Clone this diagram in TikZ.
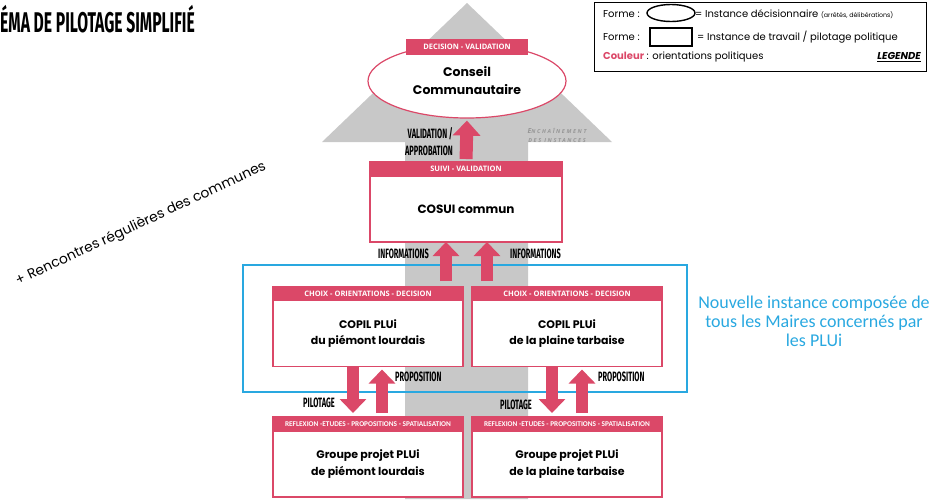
\documentclass[tikz,border=0pt]{standalone}
\usepackage{fontspec}
\setmainfont{Poppins}
\newfontfamily\narrowfont[FakeStretch=0.55]{Fira Sans}
\newfontfamily\hdrfont{Open Sans}
\newfontfamily\calfont{Carlito}
\usetikzlibrary{positioning,shapes.geometric,arrows.meta}
\definecolor{pilred}{RGB}{219,72,104}
\definecolor{pilgray}{RGB}{200,200,200}
\definecolor{pilblue}{RGB}{41,168,224}
\definecolor{txtgray}{RGB}{150,150,150}

\begin{document}
\begin{tikzpicture}[x=1pt,y=-1pt,
  body/.style={draw=pilred,line width=1.2pt,fill=white,minimum width=190pt,minimum height=66pt,
    inner sep=0pt,outer sep=0pt,align=center,font=\bfseries\fontsize{11}{16.5}\selectfont},
  hdr/.style={draw=pilred,fill=pilred,line width=1.2pt,text=white,minimum width=190pt,minimum height=14pt,
    inner sep=0pt,outer sep=0pt,font=\hdrfont\bfseries\fontsize{7.5}{8}\selectfont},
  fat/.style={draw=pilred,line width=12pt,-{Triangle[width=26pt,length=14pt]}},
  lbl/.style={inner sep=0pt,font=\narrowfont\bfseries\fontsize{13.5}{17}\selectfont},
  legtxt/.style={inner sep=0pt,anchor=west,font=\fontsize{10}{12}\selectfont}]
\useasboundingbox (0,0) rectangle (937,499);
% title
\node[anchor=west,inner sep=0pt,font=\narrowfont\bfseries\fontsize{28.5}{30}\selectfont] (title) at (0,19) {ÉMA DE PILOTAGE SIMPLIFIÉ};
% grey arrow behind
\fill[pilgray] (405,499) -- (405,142) -- (322,142) -- (467,3) -- (612,142) -- (528,142) -- (528,499) -- cycle;
\node[align=center,inner sep=0pt,text=txtgray,font=\hdrfont\itshape\bfseries\addfontfeature{LetterSpace=30}\fontsize{5.5}{9}\selectfont] (enchain) at (557,135.5)
  {{\fontsize{7}{9}\selectfont E}NCHAÎNEMENT\\DES INSTANCES};
% blue frame
\draw[pilblue,line width=1.5pt] (243,265) rectangle (687,392);
\node[align=center,inner sep=0pt,text=pilblue,font=\calfont\fontsize{18}{19}\selectfont] (nouvelle) at (814,321)
  {Nouvelle instance composée de\\tous les Maires concernés par\\les PLUi};
\node[rotate=25,inner sep=0pt,font=\fontsize{13.8}{15}\selectfont] (rencontres) at (141,224) {+ Rencontres régulières des communes};

% conseil
\node[ellipse,draw=pilred,line width=1.2pt,fill=white,minimum width=198pt,minimum height=74pt,inner sep=0pt,
  align=center,font=\bfseries\fontsize{12.5}{18}\selectfont] (conseil) at (467,81) {Conseil\\Communautaire};
\node[hdr,minimum width=120pt,minimum height=15pt,anchor=north] (conseilH) at ([yshift=4pt]conseil.north) {DECISION - VALIDATION};
% cosui
\node[body,minimum width=192pt,font=\bfseries\fontsize{12}{16}\selectfont] (cosui) at (466,209) {COSUI commun};
\node[hdr,minimum width=192pt,above=0pt of cosui] (cosuiH) {SUIVI - VALIDATION};
% copil
\node[body] (copilL) at (368,333.5) {COPIL PLUi\\du piémont lourdais};
\node[hdr,above=0pt of copilL] (copilLH) {CHOIX - ORIENTATIONS - DECISION};
\node[body] (copilR) at (567,333.5) {COPIL PLUi\\de la plaine tarbaise};
\node[hdr,above=0pt of copilR] (copilRH) {CHOIX - ORIENTATIONS - DECISION};
% groupes projet
\node[body] (groupeL) at (368,464) {Groupe projet PLUi\\de piémont lourdais};
\node[hdr,above=0pt of groupeL,font=\calfont\bfseries\fontsize{7.3}{8}\selectfont] (groupeLH) {REFLEXION -ETUDES - PROPOSITIONS - SPATIALISATION};
\node[body] (groupeR) at (567,464) {Groupe projet PLUi\\de la plaine tarbaise};
\node[hdr,above=0pt of groupeR,font=\calfont\bfseries\fontsize{7.3}{8}\selectfont] (groupeRH) {REFLEXION -ETUDES - PROPOSITIONS - SPATIALISATION};

% arrows
\draw[fat,line width=13pt,-{Triangle[width=27pt,length=15pt]},shorten <=3pt,shorten >=2pt] (cosuiH.north) -- (conseil.south);
\coordinate (infoA) at (446,281);
\coordinate (infoB) at (487,281);
\draw[fat] (infoA) -- (infoA |- cosui.south);
\draw[fat] (infoB) -- (infoB |- cosui.south);
\draw[fat,shorten >=4pt] ([xshift=-15pt]copilL.south) -- ([xshift=-15pt]groupeLH.north);
\draw[fat,shorten <=4pt,shorten >=3pt] ([xshift=14pt]groupeLH.north) -- ([xshift=14pt]copilL.south);
\draw[fat,shorten >=4pt] ([xshift=-15pt]copilR.south) -- ([xshift=-15pt]groupeRH.north);
\draw[fat,shorten <=4pt,shorten >=3pt] ([xshift=15pt]groupeRH.north) -- ([xshift=15pt]copilR.south);

% arrow labels
\node[lbl,anchor=east,align=right] (valid) at (453,141.5) {VALIDATION /\\APPROBATION};
\node[lbl,anchor=east] (infoLbl) at (429,254) {INFORMATIONS};
\node[lbl,anchor=west] (infoRbl) at (510,254) {INFORMATIONS};
\node[lbl,anchor=west] (propL) at (395,377) {PROPOSITION};
\node[lbl,anchor=west] (propR) at (598,377) {PROPOSITION};
\node[lbl,anchor=east] (pilotL) at (335,403) {PILOTAGE};
\node[lbl,anchor=east] (pilotR) at (532,405) {PILOTAGE};

% legend
\draw[line width=0.8pt] (594,2) rectangle (926,71);
\node[legtxt] (forme1) at (603,14) {Forme :};
\draw[line width=1.4pt] (671,13) ellipse (24pt and 8.5pt);
\node[legtxt] (decis) at (695,14) {= Instance décisionnaire {\fontsize{6.3}{7}\selectfont(arrêtés, délibérations)}};
\node[legtxt] (forme2) at (603,37) {Forme :};
\draw[line width=1.2pt] (650,28) rectangle (692,46);
\node[legtxt] (travail) at (697,37) {= Instance de travail / pilotage politique};
\node[legtxt] (couleur) at (603,57) {{\color{pilred}\bfseries Couleur} : orientations politiques};
\node[legtxt,anchor=east,font=\bfseries\itshape\fontsize{10}{12}\selectfont] (legende) at (921,57) {\underline{LEGENDE}};
\end{tikzpicture}
\end{document}
